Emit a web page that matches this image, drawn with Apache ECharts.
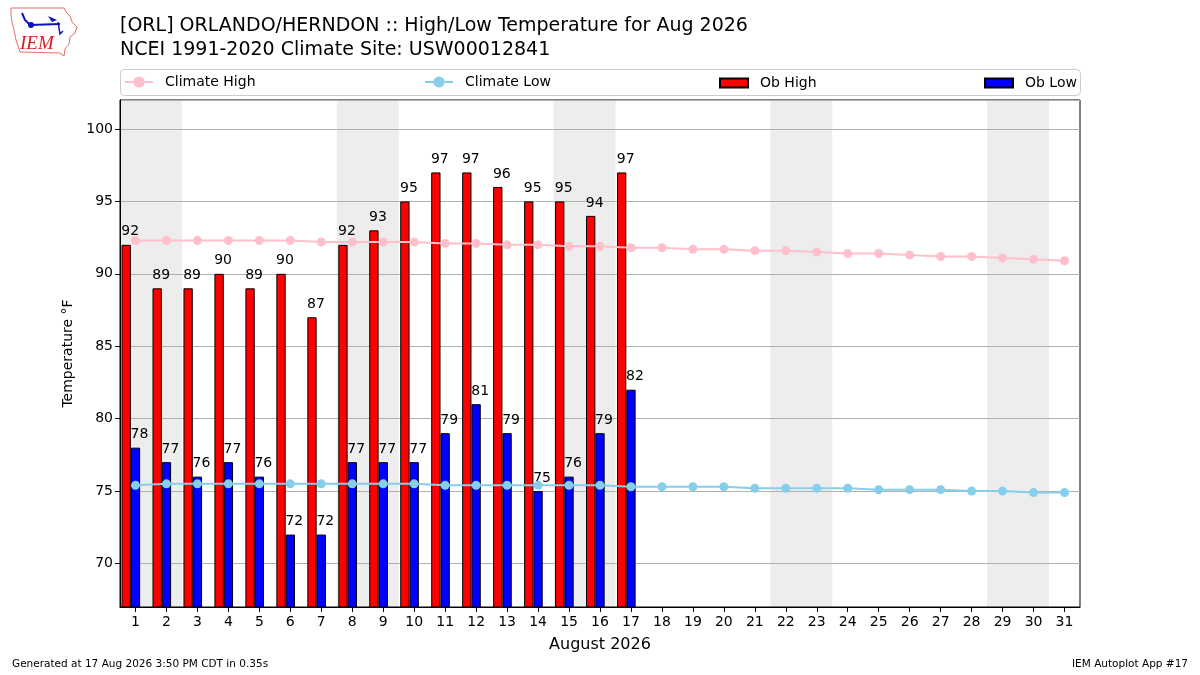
<!DOCTYPE html>
<html>
<head>
<meta charset="utf-8">
<script src="https://cdn.jsdelivr.net/npm/echarts@6/dist/echarts.min.js"></script>
<style>
html,body{margin:0;padding:0;background:#fff;}
#chart{width:1200px;height:675px;}
</style>
</head>
<body>
<div id="chart"></div>
<script>
const days = ['1','2','3','4','5','6','7','8','9','10','11','12','13','14','15','16','17','18','19','20','21','22','23','24','25','26','27','28','29','30','31'];
const obHigh = [92,89,89,90,89,90,87,92,93,95,97,97,96,95,95,94,97];
const obLow = [78,77,76,77,76,72,72,77,77,77,79,81,79,75,76,79,82];
const climHigh = [92.3,92.3,92.3,92.3,92.3,92.3,92.2,92.2,92.2,92.2,92.1,92.1,92.0,92.0,91.9,91.9,91.8,91.8,91.7,91.7,91.6,91.6,91.5,91.4,91.4,91.3,91.2,91.2,91.1,91.0,90.9];
const climLow = [75.4,75.5,75.5,75.5,75.5,75.5,75.5,75.5,75.5,75.5,75.4,75.4,75.4,75.4,75.4,75.4,75.3,75.3,75.3,75.3,75.2,75.2,75.2,75.2,75.1,75.1,75.1,75.0,75.0,74.9,74.9];
const weekendStart = ['1','8','15','22','29'];
const weekendEnd = ['2','9','16','23','30'];
const yMin = 67, yMax = 102;

const FONT = 'DejaVu Sans';
const chart = echarts.init(document.getElementById('chart'), null, {renderer: 'canvas'});

const barLabel = {
  show: true, position: 'top', distance: 6, offset: [4, 0],
  fontFamily: FONT, fontSize: 14, color: '#000'
};

const legendBase = {
  padding: 0, itemWidth: 28, itemGap: 0,
  textStyle: {fontFamily: FONT, fontSize: 14, color: '#000', padding: [0, 0, 0, 7]},
  selectedMode: false
};
const lineLegend = Object.assign({}, legendBase, {top: 75, itemHeight: 14, lineStyle: {width: 2}});
const rectLegend = Object.assign({}, legendBase, {top: 76, itemHeight: 9, icon: 'rect'});

const option = {
  animation: false,
  backgroundColor: '#fff',
  title: {
    text: '[ORL] ORLANDO/HERNDON :: High/Low Temperature for Aug 2026\nNCEI 1991-2020 Climate Site: USW00012841',
    left: 120, top: 14, padding: 0,
    textStyle: {fontFamily: FONT, fontSize: 19, fontWeight: 'normal', color: '#000', lineHeight: 24}
  },
  legend: [
    Object.assign({}, lineLegend, {left: 124, data: ['Climate High']}),
    Object.assign({}, lineLegend, {left: 424, data: ['Climate Low']}),
    Object.assign({}, rectLegend, {left: 719, data: ['Ob High']}),
    Object.assign({}, rectLegend, {left: 984, data: ['Ob Low']})
  ],
  grid: {
    left: 120, right: 120, top: 100, bottom: 68,
    show: true, borderColor: '#000', borderWidth: 1, backgroundColor: 'transparent',
    containLabel: false
  },
  xAxis: {
    type: 'category', data: days, boundaryGap: true,
    name: 'August 2026', nameLocation: 'middle', nameGap: 30,
    nameTextStyle: {fontFamily: FONT, fontSize: 16, color: '#000'},
    axisLine: {show: true, lineStyle: {color: '#000'}},
    axisTick: {show: true, alignWithLabel: true, length: 5, lineStyle: {color: '#000'}},
    axisLabel: {fontFamily: FONT, fontSize: 14, color: '#000', margin: 8, interval: 0},
    splitLine: {show: false}
  },
  yAxis: {
    type: 'value', min: yMin, max: yMax, minInterval: 5, maxInterval: 5, splitNumber: 7,
    name: 'Temperature °F', nameLocation: 'middle', nameGap: 43, nameRotate: 90,
    nameTextStyle: {fontFamily: FONT, fontSize: 14, color: '#000'},
    axisLine: {show: true, lineStyle: {color: '#000'}},
    axisTick: {show: true, length: 5, lineStyle: {color: '#000'}},
    axisLabel: {
      fontFamily: FONT, fontSize: 14, color: '#000', margin: 7,
      showMinLabel: false, showMaxLabel: false,
      formatter: v => (v % 5 === 0 ? String(v) : '')
    },
    splitLine: {show: true, lineStyle: {color: '#b0b0b0', width: 1}}
  },
  series: [
    {
      name: 'weekend', type: 'custom', z: -1, silent: true,
      data: weekendStart.map((s, i) => [s, weekendEnd[i]]),
      encode: {x: [0, 1]},
      renderItem: function (params, api) {
        const band = api.size([1, 0])[0];
        const p0 = api.coord([api.value(0), yMax]);
        const p1 = api.coord([api.value(1), yMin]);
        const x0 = p0[0] - band / 2;
        const x1 = p1[0] + band / 2;
        return {
          type: 'rect',
          shape: {x: x0, y: p0[1], width: x1 - x0, height: p1[1] - p0[1]},
          style: {fill: '#ededed'}
        };
      }
    },
    {
      name: 'Ob High', type: 'bar', data: obHigh, barWidth: 9.3, barGap: '0%',
      itemStyle: {color: '#ff0000', borderColor: '#000', borderWidth: 1},
      label: barLabel
    },
    {
      name: 'Ob Low', type: 'bar', data: obLow, barWidth: 9.3, barGap: '0%',
      itemStyle: {color: '#0000ff', borderColor: '#000', borderWidth: 1},
      label: barLabel
    },
    {
      name: 'spacer', type: 'bar', data: [], barWidth: 9.3, barGap: '0%', silent: true
    },
    {
      name: 'Climate High', type: 'line', data: climHigh, z: 5,
      symbol: 'circle', symbolSize: 9, showSymbol: true,
      lineStyle: {color: '#ffc0cb', width: 2}, itemStyle: {color: '#ffc0cb'}
    },
    {
      name: 'Climate Low', type: 'line', data: climLow, z: 5,
      symbol: 'circle', symbolSize: 9, showSymbol: true,
      lineStyle: {color: '#87ceeb', width: 2}, itemStyle: {color: '#87ceeb'}
    }
  ],
  graphic: [
    {type: 'rect', left: 120, top: 69, z: 1, silent: true,
     shape: {width: 960, height: 26, r: 4},
     style: {fill: '#fff', stroke: '#cccccc', lineWidth: 1}},
    {type: 'polygon', z: 1, silent: true,
     shape: {points: [[11,8],[64,8],[66,12],[70,16],[72,22],[77,27],[75,33],[70,37],[69,44],[65,49],[64,56],[60,53],[20,52],[18,46],[16,40],[14,30],[12,22],[11,15]]},
     style: {fill: '#fff', stroke: '#e07070', lineWidth: 1}},
    {type: 'polyline', z: 2, silent: true, shape: {points: [[22,13],[25,20],[30,25],[60,24]]}, style: {stroke: '#1010c0', lineWidth: 2, fill: null}},
    {type: 'circle', z: 2, silent: true, shape: {cx: 31, cy: 25, r: 3}, style: {fill: '#1010c0'}},
    {type: 'polygon', z: 2, silent: true, shape: {points: [[48,16],[57,20],[52,22]]}, style: {fill: '#1010c0'}},
    {type: 'polyline', z: 2, silent: true, shape: {points: [[58,22],[60,34],[63,31]]}, style: {stroke: '#1010c0', lineWidth: 1.5, fill: null}},
    {type: 'text', z: 2, silent: true, left: 20, top: 34,
     style: {text: 'IEM', fill: '#d42020', font: 'italic 19px "Liberation Serif", serif'}},
    {type: 'text', left: 12, top: 659, silent: true,
     style: {text: 'Generated at 17 Aug 2026 3:50 PM CDT in 0.35s', fill: '#000', font: '10.5px "DejaVu Sans"'}},
    {type: 'text', right: 12, top: 659, silent: true,
     style: {text: 'IEM Autoplot App #17', fill: '#000', font: '10.5px "DejaVu Sans"'}}
  ]
};
chart.setOption(option);
</script>
</body>
</html>
